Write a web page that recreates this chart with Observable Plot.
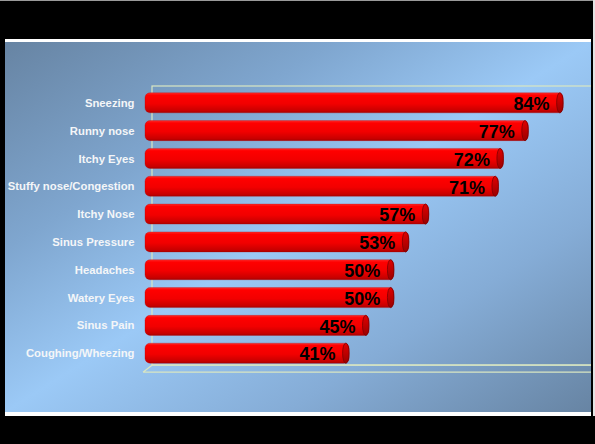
<!DOCTYPE html>
<html><head><meta charset="utf-8">
<script src="https://cdn.jsdelivr.net/npm/d3@7"></script>
<script src="https://cdn.jsdelivr.net/npm/@observablehq/plot@0.6"></script>
<style>
html,body{margin:0;padding:0;background:#000;width:595px;height:444px;overflow:hidden;font-family:"Liberation Sans",Arial,sans-serif}
#topline{position:absolute;left:0;top:0;width:595px;height:1px;background:#9a9a9a}
#rstrip{position:absolute;left:593px;top:0;width:2px;height:416px;background:#e4e4e4}
#frame{position:absolute;left:5px;top:39px;width:586px;height:377px;background:#fff}
#panel{position:absolute;left:0;top:3px;width:586px;height:370px;overflow:hidden;
 background:linear-gradient(to bottom right,#6784a3 0%,#7fa6cf 28%,#9bc9f6 50%,#85acd6 74%,#6784a3 100%)}
#panel svg{display:block;background:transparent}
</style>
</head><body>
<div id="topline"></div>
<div id="rstrip"></div>
<div id="frame"><div id="panel"></div></div>
<script>
const categories = ["Sneezing","Runny nose","Itchy Eyes","Stuffy nose/Congestion","Itchy Nose","Sinus Pressure","Headaches","Watery Eyes","Sinus Pain","Coughing/Wheezing"];
const values = [84,77,72,71,57,53,50,50,45,41];
const xMax = 89.4;

const data = categories.map((c,i)=>({category:c, value:values[i]}));
const wallColor = "#d9e6c2";

const plot = Plot.plot({
  width: 586,
  height: 370,
  marginLeft: 140,
  marginRight: 1,
  marginTop: 43,
  marginBottom: 41,
  style: {background:"transparent", fontFamily:"'Liberation Sans', Arial, sans-serif"},
  x: {domain:[0,xMax], axis:null},
  y: {domain: categories, paddingInner: 0.28, paddingOuter: 0.28, round: false, label: null, axis: null},
  marks: [
    // back wall
    Plot.rect([{}], {x1: 0, x2: xMax, dx: 7, insetTop: 1, insetBottom: 6, fill: "none", stroke: wallColor, strokeWidth: 1.2}),
    Plot.axisY({tickSize: 0, tickPadding: 11, fontSize: 11.3, fontWeight: "bold", fill: "#f4f6f8", label: null}),
    // bar bodies
    Plot.barX(data, {y: "category", x1: 0, x2: "value", fill: "url(#redgrad)", rx: 5, stroke: "#b30000", strokeWidth: 0.5, strokeOpacity: 0.6}),
    // bar end caps
    Plot.barX(data, {y: "category", x1: d => d.value - 1.3, x2: "value", fill: "url(#capgrad)", rx: 3, ry: 10, stroke: "#7a0000", strokeWidth: 0.8}),
    Plot.text(data, {y: "category", x: "value", text: d => d.value + "%", textAnchor: "end", dx: -14, dy: 1, fontSize: 18, fontWeight: "bold", fill: "#000"})
  ]
});

const svg = d3.select(plot);
const defs = svg.insert("defs", ":first-child");
const g1 = defs.append("linearGradient").attr("id","redgrad").attr("x1",0).attr("y1",0).attr("x2",0).attr("y2",1);
g1.append("stop").attr("offset","0%").attr("stop-color","#ff2a2a");
g1.append("stop").attr("offset","12%").attr("stop-color","#ff0000");
g1.append("stop").attr("offset","55%").attr("stop-color","#f20000");
g1.append("stop").attr("offset","90%").attr("stop-color","#c80000");
g1.append("stop").attr("offset","100%").attr("stop-color","#a80000");
const g2 = defs.append("linearGradient").attr("id","capgrad").attr("x1",0).attr("y1",0).attr("x2",0).attr("y2",1);
g2.append("stop").attr("offset","0%").attr("stop-color","#e00000");
g2.append("stop").attr("offset","100%").attr("stop-color","#9a0000");

// floor drawn with the plot's own scales, placed behind the bars
const xs = plot.scale("x"), ys = plot.scale("y");
const last = categories[categories.length-1];
const bandBottom = ys.apply(last) + ys.bandwidth;
const x0 = xs.apply(0), x1 = xs.apply(xMax);
const front = bandBottom + 9, back = bandBottom + 2;
svg.insert("path", "defs + *")
  .attr("d", `M${x0-2},${front} L${x0+7},${back} L${x1+9},${back} M${x0-2},${front} L${x1+2},${front} L${x1+7},${back}`)
  .attr("fill","none").attr("stroke", wallColor).attr("stroke-width",1.2);

document.getElementById("panel").appendChild(plot);
</script>
</body></html>
